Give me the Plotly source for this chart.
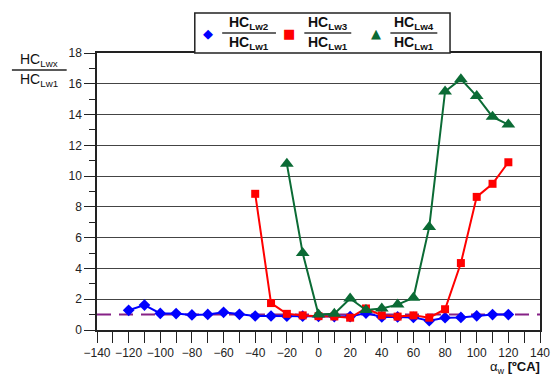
import plotly.graph_objects as go

# Crank angle positions [°CA]
angle = [-120, -110, -100, -90, -80, -70, -60, -50, -40, -30, -20, -10, 0,
         10, 20, 30, 40, 50, 60, 70, 80, 90, 100, 110, 120]
angle_lw3 = [-40, -30, -20, -10, 0, 10, 20, 30, 40, 50, 60, 70, 80, 90, 100, 110, 120]
angle_lw4 = [-20, -10, 0, 10, 20, 30, 40, 50, 60, 70, 80, 90, 100, 110, 120]

# HC ratios relative to Lw1
ratio_lw2 = [1.28, 1.62, 1.08, 1.07, 0.98, 1.01, 1.15, 1.02, 0.91, 0.91, 0.9, 0.9, 0.88,
             0.87, 0.87, 1.1, 0.85, 0.85, 0.82, 0.6, 0.8, 0.82, 0.92, 1.0, 1.0]
ratio_lw3 = [8.85, 1.75, 1.05, 0.95, 0.9, 0.88, 0.8, 1.4, 0.95, 0.87, 0.95, 0.8,
             1.35, 4.35, 8.65, 9.5, 10.9]
ratio_lw4 = [10.8, 5.0, 1.0, 1.05, 2.05, 1.3, 1.4, 1.65, 2.1, 6.7, 15.5, 16.3,
             15.2, 13.85, 13.35]

reference_level = 1.0

BLUE = "#0000FF"
RED = "#FF0000"
GREEN = "#0B6B35"
PURPLE = "#862186"

fig = go.Figure()
fig.add_trace(go.Scatter(x=angle, y=ratio_lw2, mode="lines+markers",
                         line=dict(color=BLUE, width=2),
                         marker=dict(symbol="diamond", size=9, color=BLUE)))
fig.add_trace(go.Scatter(x=angle_lw3, y=ratio_lw3, mode="lines+markers",
                         line=dict(color=RED, width=2),
                         marker=dict(symbol="square", size=8, color=RED)))
fig.add_trace(go.Scatter(x=angle_lw4, y=ratio_lw4, mode="lines+markers",
                         line=dict(color=GREEN, width=2),
                         marker=dict(symbol="triangle-up", size=12, color=GREEN)))

# dashed reference line at ratio 1
fig.add_shape(type="line", xref="x", yref="y", x0=-140, x1=140,
              y0=reference_level, y1=reference_level,
              line=dict(color=PURPLE, width=2, dash="14px,8px"), layer="below")

W, H = 559, 376
L, R, T, B = 97, 9, 53, 46
pw, ph = W - L - R, H - T - B


def px(x):
    return (x - L) / pw


def py(y):
    return (H - B - y) / ph


font = dict(family="Arial, Liberation Sans, sans-serif", size=12, color="#222222")

# legend box with fraction labels
fig.add_shape(type="rect", xref="paper", yref="paper",
              x0=px(197), x1=px(458), y0=py(53), y1=py(13),
              line=dict(color="#222222", width=1.5), fillcolor="white")

legend_items = [
    ("◆", BLUE, 210, "HC<sub>Lw2</sub>", 225, 280),
    ("■", RED, 293, "HC<sub>Lw3</sub>", 309, 357),
    ("▲", GREEN, 382, "HC<sub>Lw4</sub>", 397, 445),
]
for sym, col, sx, num, b0, b1 in legend_items:
    fig.add_annotation(xref="paper", yref="paper", x=px(sx), y=py(33),
                       text=sym, showarrow=False, xanchor="center", yanchor="middle",
                       font=dict(family="DejaVu Sans", size=13, color=col))
    cx = (b0 + b1) / 2
    fig.add_annotation(xref="paper", yref="paper", x=px(cx), y=py(23),
                       text=f"<b>{num}</b>", showarrow=False, xanchor="center",
                       yanchor="middle", font=dict(family=font["family"], size=14,
                                                   color="#111111"))
    fig.add_annotation(xref="paper", yref="paper", x=px(cx), y=py(43),
                       text="<b>HC<sub>Lw1</sub></b>", showarrow=False, xanchor="center",
                       yanchor="middle", font=dict(family=font["family"], size=14,
                                                   color="#111111"))
    fig.add_shape(type="line", xref="paper", yref="paper", x0=px(b0), x1=px(b1),
                  y0=py(33), y1=py(33), line=dict(color="#333333", width=1.5))

# y-axis title as a fraction
fig.add_annotation(xref="paper", yref="paper", x=px(38), y=py(60),
                   text="HC<sub>Lwx</sub>", showarrow=False, xanchor="center",
                   yanchor="middle", font=dict(family=font["family"], size=14,
                                               color="#111111"))
fig.add_annotation(xref="paper", yref="paper", x=px(38), y=py(80),
                   text="HC<sub>Lw1</sub>", showarrow=False, xanchor="center",
                   yanchor="middle", font=dict(family=font["family"], size=14,
                                               color="#111111"))
fig.add_shape(type="line", xref="paper", yref="paper", x0=px(10), x1=px(66),
              y0=py(70), y1=py(70), line=dict(color="#222222", width=1.5))

# x-axis title
fig.add_annotation(xref="paper", yref="paper", x=px(552), y=py(367),
                   text="α<sub>w</sub> <b>[ºCA]</b>", showarrow=False,
                   xanchor="right", yanchor="middle",
                   font=dict(family=font["family"], size=13, color="#111111"))

fig.update_layout(
    width=W, height=H,
    margin=dict(l=L, r=R, t=T, b=B),
    paper_bgcolor="white", plot_bgcolor="white",
    showlegend=False,
    font=font,
    xaxis=dict(range=[-140, 140], tick0=-140, dtick=20,
               ticks="outside", ticklen=11, tickcolor="#222222", tickwidth=1,
               showline=True, linecolor="#222222", linewidth=1.5, mirror=True,
               showgrid=False, zeroline=False, tickfont=font,
               minor=dict(dtick=10, ticks="outside", ticklen=11,
                          tickcolor="#222222", showgrid=False)),
    yaxis=dict(range=[0, 18], tick0=0, dtick=2, ticks="outside", ticklen=11,
               tickcolor="#222222", tickwidth=1,
               showline=True, linecolor="#222222", linewidth=1.5, mirror=True,
               showgrid=True, gridcolor="#444444", gridwidth=1.2,
               zeroline=False, tickfont=font,
               minor=dict(dtick=1, ticks="outside", ticklen=6,
                          tickcolor="#222222", showgrid=False)),
)

fig.write_html("out.html")
